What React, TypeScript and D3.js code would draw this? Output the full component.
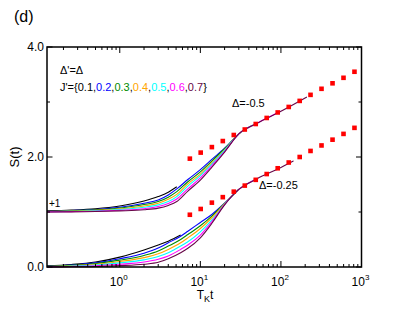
import React from "react";
import * as d3 from "d3";

// J' values and their colours (xmgrace palette)
const jLabels = ["0.1", "0.2", "0.3", "0.4", "0.5", "0.6", "0.7"];
const jColors = ["#000000", "#0000ff", "#008b00", "#ffa500", "#00ffff", "#ff00ff", "#670748"];

// Delta = -0.25 (lower family)
const tLow = [0.125, 0.25, 0.5, 1, 2, 3, 4, 5.7, 7, 10, 14, 20, 30, 50, 100, 143];
const sLow = [
  [0.02, 0.045, 0.09, 0.18, 0.31, 0.4, 0.47, 0.58],
  [0.015, 0.035, 0.075, 0.15, 0.25, 0.345, 0.44, 0.56, 0.65, 0.81, 0.96, 1.16, 1.41],
  [0.012, 0.029, 0.062, 0.125, 0.21, 0.29, 0.38, 0.5, 0.59, 0.75, 0.93, 1.155, 1.41],
  [0.009, 0.023, 0.049, 0.1, 0.17, 0.24, 0.32, 0.44, 0.53, 0.7, 0.9, 1.15, 1.41, 1.6],
  [0.006, 0.016, 0.036, 0.075, 0.13, 0.19, 0.26, 0.38, 0.46, 0.64, 0.86, 1.14, 1.41, 1.6],
  [0.003, 0.01, 0.023, 0.05, 0.09, 0.14, 0.2, 0.32, 0.4, 0.58, 0.83, 1.135, 1.41, 1.6],
  [0.0, 0.004, 0.01, 0.025, 0.05, 0.085, 0.15, 0.26, 0.34, 0.53, 0.8, 1.13, 1.41, 1.6, 1.81, 1.93],
];

// Delta = -0.5 (upper family, shifted by +1)
const tUp = [0.125, 0.25, 0.5, 1, 2, 3, 4, 5.1, 7, 10, 14, 20, 30, 50, 100, 210];
const sUp = [
  [1.02, 1.035, 1.06, 1.11, 1.2, 1.28, 1.36, 1.46],
  [1.01, 1.025, 1.045, 1.085, 1.16, 1.22, 1.31, 1.42, 1.59, 1.77, 1.96, 2.16, 2.42],
  [1.008, 1.021, 1.038, 1.072, 1.135, 1.19, 1.27, 1.37, 1.55, 1.73, 1.93, 2.15, 2.42, 2.61],
  [1.006, 1.016, 1.03, 1.058, 1.11, 1.16, 1.23, 1.32, 1.51, 1.69, 1.9, 2.13, 2.42, 2.61],
  [1.004, 1.012, 1.023, 1.045, 1.085, 1.13, 1.19, 1.28, 1.47, 1.66, 1.88, 2.12, 2.42, 2.61],
  [1.002, 1.007, 1.015, 1.032, 1.06, 1.1, 1.155, 1.235, 1.42, 1.62, 1.85, 2.1, 2.42, 2.61, 2.83],
  [1.0, 1.003, 1.008, 1.02, 1.04, 1.07, 1.12, 1.19, 1.38, 1.58, 1.82, 2.09, 2.42, 2.61, 2.83, 3.09],
];

// red squares
const tSq = [7.41, 10.1, 13.9, 19.0, 26.0, 35.6, 48.7, 66.6, 91.2, 125, 171, 233, 319, 437, 598, 818];
const sqUp = [1.97, 2.08, 2.18, 2.29, 2.4, 2.5, 2.6, 2.71, 2.81, 2.91, 3.02, 3.13, 3.24, 3.34, 3.44, 3.55];
const sqLow = [0.95, 1.055, 1.17, 1.27, 1.37, 1.48, 1.585, 1.69, 1.795, 1.9, 2.0, 2.11, 2.21, 2.315, 2.42, 2.53];

const xMajor = [1, 10, 100, 1000];
const xExp = ["0", "1", "2", "3"];
const yMajor = [0, 2, 4];
const yMinor = [1, 3];

const W = 407, H = 315;
const m = { left: 47, right: 361.5, top: 47, bottom: 267 };
const font = "'Liberation Sans', Arial, Helvetica, sans-serif";

export default function App() {
  const x = d3.scaleLog().domain([0.125, 1000]).range([m.left, m.right]);
  const y = d3.scaleLinear().domain([0, 4]).range([m.bottom, m.top]);

  const line = d3
    .line<[number, number]>()
    .x((d) => x(d[0]))
    .y((d) => y(d[1]))
    .curve(d3.curveMonotoneX);

  const xMinor: number[] = [];
  [0.1, 1, 10, 100].forEach((dec) => {
    for (let k = 2; k <= 9; k++) {
      const v = dec * k;
      if (v >= 0.125 && v <= 1000) xMinor.push(v);
    }
  });

  const families = [
    { t: tLow, s: sLow },
    { t: tUp, s: sUp },
  ];

  return (
    <svg width={W} height={H} style={{ position: "absolute", left: 0, top: 0, background: "#fff" }} fontFamily={font}>
      <text x={14} y={22} fontSize={16}>(d)</text>

      {/* curves */}
      <g fill="none" strokeWidth={1.1}>
        {families.map((f, fi) =>
          f.s.map((vals, i) => (
            <path
              key={fi + "-" + i}
              d={line(vals.map((v, k) => [f.t[k], v] as [number, number])) || ""}
              stroke={jColors[i]}
            />
          ))
        )}
      </g>

      {/* red squares */}
      <g fill="#ff0000">
        {tSq.map((t, i) => (
          <rect key={"u" + i} x={x(t) - 2.3} y={y(sqUp[i]) - 2.3} width={4.6} height={4.6} />
        ))}
        {tSq.map((t, i) => (
          <rect key={"l" + i} x={x(t) - 2.3} y={y(sqLow[i]) - 2.3} width={4.6} height={4.6} />
        ))}
      </g>

      {/* frame */}
      <rect x={m.left} y={m.top} width={m.right - m.left} height={m.bottom - m.top} fill="none" stroke="#000" strokeWidth={1.5} />

      {/* ticks */}
      <g stroke="#000" strokeWidth={1}>
        {xMajor.map((v) => (
          <g key={"xM" + v}>
            <line x1={x(v)} x2={x(v)} y1={m.bottom} y2={m.bottom - 6} />
            <line x1={x(v)} x2={x(v)} y1={m.top} y2={m.top + 6} />
          </g>
        ))}
        {xMinor.map((v) => (
          <g key={"xm" + v}>
            <line x1={x(v)} x2={x(v)} y1={m.bottom} y2={m.bottom - 3} />
            <line x1={x(v)} x2={x(v)} y1={m.top} y2={m.top + 3} />
          </g>
        ))}
        {yMajor.map((v) => (
          <g key={"yM" + v}>
            <line x1={m.left} x2={m.left + 5.5} y1={y(v)} y2={y(v)} />
            <line x1={m.right} x2={m.right - 5.5} y1={y(v)} y2={y(v)} />
          </g>
        ))}
        {yMinor.map((v) => (
          <g key={"ym" + v}>
            <line x1={m.left} x2={m.left + 3} y1={y(v)} y2={y(v)} />
            <line x1={m.right} x2={m.right - 3} y1={y(v)} y2={y(v)} />
          </g>
        ))}
      </g>

      {/* tick labels */}
      {yMajor.map((v) => (
        <text key={"yl" + v} x={m.left - 3} y={y(v) + 4.3} fontSize={12} textAnchor="end">
          {v.toFixed(1)}
        </text>
      ))}
      {xMajor.map((v, i) => (
        <text key={"xl" + v} x={x(v) - 1} y={286} fontSize={12} textAnchor="middle">
          10<tspan fontSize={8} dy={-6}>{xExp[i]}</tspan>
        </text>
      ))}

      {/* axis titles */}
      <text x={205} y={299} fontSize={12} textAnchor="middle">
        T<tspan fontSize={9} dy={3}>K</tspan><tspan dy={-3}>t</tspan>
      </text>
      <text transform="translate(19,157) rotate(-90)" fontSize={13} textAnchor="middle">S(t)</text>

      {/* annotations */}
      <text x={60} y={74} fontSize={11}>Δ'=Δ</text>
      <text x={60} y={91} fontSize={11}>
        J'=&#123;
        {jLabels.map((l, i) => (
          <tspan key={l} fill={jColors[i]}>
            {l}
            {i < jLabels.length - 1 ? <tspan fill="#000">,</tspan> : null}
          </tspan>
        ))}
        &#125;
      </text>
      <text x={232} y={107} fontSize={11}>Δ=-0.5</text>
      <text x={259} y={189} fontSize={11}>Δ=-0.25</text>
      <text x={49} y={207} fontSize={10}>+1</text>
    </svg>
  );
}
